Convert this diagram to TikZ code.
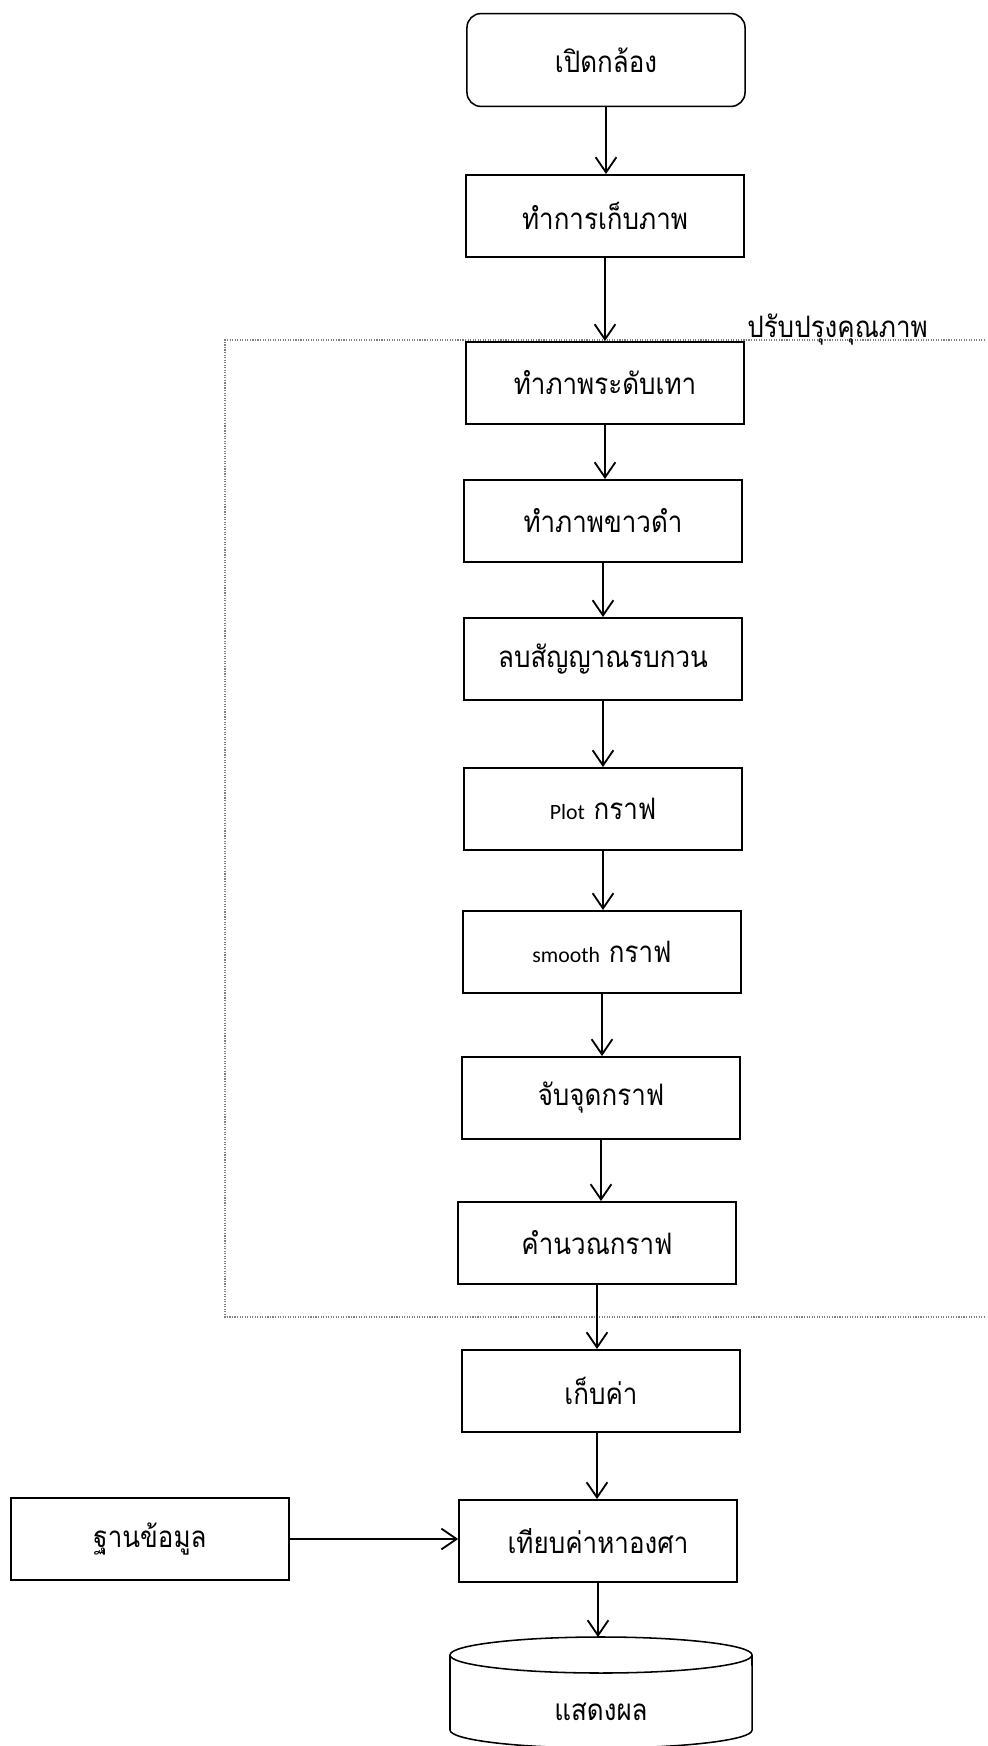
\documentclass[tikz,border=0pt]{standalone}
\usepackage{fontspec}
\newfontfamily\thaifont[Script=Thai, FakeStretch=0.88]{Loma}
\newfontfamily\latinfont{Carlito}
\usetikzlibrary{arrows.meta}

\begin{document}
\begin{tikzpicture}[x=0.025cm, y=-0.025cm,
    box/.style={draw, line width=1.1pt, minimum width=6.95cm, minimum height=2.06cm,
        inner sep=0pt, font=\thaifont\fontsize{21}{25}\selectfont},
    flow/.style={line width=1.3pt, -{Straight Barb[length=0.38cm, width=0.52cm]}}]
    \useasboundingbox (0,0) rectangle (987,1746);
    % quality frame
    \draw[gray, densely dotted, line width=0.8pt] (985,340) -- (225,340) -- (225,1317) -- (985,1317);
    \node[anchor=base west, inner sep=0pt, font=\thaifont\fontsize{21}{25}\selectfont] (enh) at (747,337) {ปรับปรุงคุณภาพ};
    \node[box, rounded corners=0.35cm, minimum height=2.32cm] (cam) at (606,60) {เปิดกล้อง};
    \node[box] (cap) at (605,216) {ทำการเก็บภาพ};
    \node[box] (gray) at (605,383) {ทำภาพระดับเทา};
    \node[box] (bw) at (603,521) {ทำภาพขาวดำ};
    \node[box] (noise) at (603,659) {ลบสัญญาณรบกวน};
    \node[box] (plot) at (603,809) {{\latinfont\fontsize{15.5}{18}\selectfont Plot} กราฟ};
    \node[box] (smooth) at (602,952) {{\latinfont\fontsize{15.5}{18}\selectfont smooth} กราฟ};
    \node[box] (pick) at (601,1098) {จับจุดกราฟ};
    \node[box] (calc) at (597,1243) {คำนวณกราฟ};
    \node[box] (keep) at (601,1391) {เก็บค่า};
    \node[box] (cmp) at (598,1541) {เทียบค่าหาองศา};
    \node[box] (db) at (150,1539) {ฐานข้อมูล};
    % display
    \coordinate (showtop) at (599,1637);
    \draw[line width=1.1pt] (601,1655) ellipse[x radius=3.775cm, y radius=0.45cm];
    \draw[line width=1.1pt] (450,1655) -- (450,1730) arc[start angle=180, end angle=360, x radius=3.775cm, y radius=0.45cm] -- (752,1655);
    \node[font=\thaifont\fontsize{21}{25}\selectfont] (show) at (601,1712) {แสดงผล};
    % arrows
    \draw[flow] (cam.south) -- (cam.south |- cap.north);
    \draw[flow] (cap.south) -- (cap.south |- gray.north);
    \draw[flow] (gray.south) -- (gray.south |- bw.north);
    \draw[flow] (bw.south) -- (bw.south |- noise.north);
    \draw[flow] (noise.south) -- (noise.south |- plot.north);
    \draw[flow] (plot.south) -- (plot.south |- smooth.north);
    \draw[flow] (smooth.south) -- (smooth.south |- pick.north);
    \draw[flow] (pick.south) -- (pick.south |- calc.north);
    \draw[flow] (calc.south) -- (calc.south |- keep.north);
    \draw[flow] (calc.south |- keep.south) -- (calc.south |- cmp.north);
    \draw[flow] (db.east) -- (db.east -| cmp.west);
    \draw[flow] (cmp.south) -- (cmp.south |- showtop);
\end{tikzpicture}
\end{document}
